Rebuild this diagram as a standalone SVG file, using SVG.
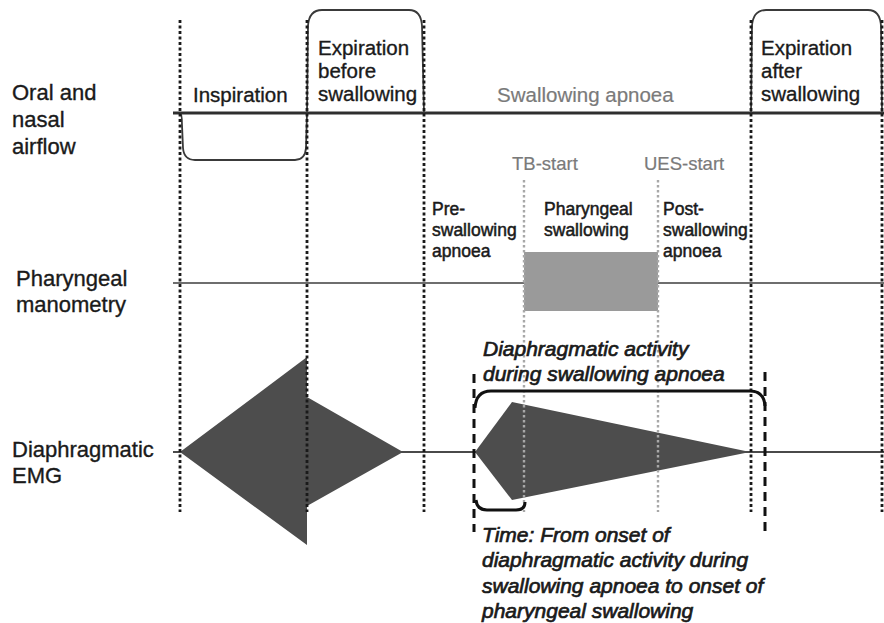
<svg xmlns="http://www.w3.org/2000/svg" width="884" height="623" viewBox="0 0 884 623">
<style>
text{font-family:"Liberation Sans",Arial,sans-serif;fill:#1a1a1a;stroke:#1a1a1a;stroke-width:0.35}
.row{font-size:22px}
.lab{font-size:20.5px}
.sm{font-size:17.5px;stroke-width:0.5}
.gr{fill:#7a7a7a;stroke:#7a7a7a;stroke-width:0.2}
.it{font-style:italic;font-size:21px;stroke-width:0.7}
.vd{stroke:#1a1a1a;stroke-width:2.8;stroke-dasharray:3 2.5;fill:none}
.gd{stroke:#a8a8a8;stroke-width:2.4;stroke-dasharray:2.5 2.5;fill:none}
.wave{stroke:#3a3a3a;stroke-width:1.8;fill:none}
.dash{stroke:#111;stroke-width:3;stroke-dasharray:9 6;fill:none}
.brk{stroke:#111;stroke-width:3;fill:none}
.emg{fill:#4d4d4d}
</style>
<rect width="884" height="623" fill="#fff"/>
<g id="airflow">
<line x1="173" y1="113" x2="884" y2="113" stroke="#2e2e2e" stroke-width="3"/>
<path class="wave" d="M180,113 Q182,113 182,125 L183,148 Q184,160 195,160 L295,160 Q305,160 306,148 L307,113"/>
<path class="wave" d="M307,113 L308,26 Q309,10 322,10 L409,10 Q421,10 422,26 L424,113"/>
<path class="wave" d="M751,113 L752,26 Q753,10 766,10 L868,10 Q880,10 881,26 L882,113"/>
<text class="row" x="12" y="100">Oral and</text>
<text class="row" x="12" y="127">nasal</text>
<text class="row" x="12" y="154">airflow</text>
<text class="lab" x="193" y="102">Inspiration</text>
<text class="lab" x="318" y="55">Expiration</text>
<text class="lab" x="318" y="78">before</text>
<text class="lab" x="318" y="101">swallowing</text>
<text class="lab gr" x="497" y="102">Swallowing apnoea</text>
<text class="lab" x="761" y="55">Expiration</text>
<text class="lab" x="761" y="78">after</text>
<text class="lab" x="761" y="101">swallowing</text>
</g>
<g id="manometry">
<line x1="173" y1="283" x2="884" y2="283" stroke="#6e6e6e" stroke-width="2.2"/>
<rect x="524" y="252" width="134" height="59" fill="#9a9a9a"/>
<text class="row" x="16" y="286">Pharyngeal</text>
<text class="row" x="16" y="312">manometry</text>
<text class="gr" x="512" y="170" style="font-size:18.5px">TB-start</text>
<text class="gr" x="644" y="170" style="font-size:18.5px">UES-start</text>
<text class="sm" x="432" y="215">Pre-</text>
<text class="sm" x="432" y="236">swallowing</text>
<text class="sm" x="432" y="257">apnoea</text>
<text class="sm" x="544" y="215">Pharyngeal</text>
<text class="sm" x="544" y="236">swallowing</text>
<text class="sm" x="663" y="215">Post-</text>
<text class="sm" x="663" y="236">swallowing</text>
<text class="sm" x="663" y="257">apnoea</text>
</g>
<g id="emg">
<line x1="173" y1="452" x2="884" y2="452" stroke="#4a4a4a" stroke-width="2.2"/>
<polygon class="emg" points="180,452 307,357 307,397 403,452 307,506 307,545"/>
<polygon class="emg" points="475,452 512,402 750,452 512,500"/>
<text class="row" x="12" y="457">Diaphragmatic</text>
<text class="row" x="12" y="483">EMG</text>
</g>
<g id="guides">
<line class="vd" x1="180" y1="20" x2="180" y2="512"/>
<line class="vd" x1="307" y1="20" x2="307" y2="512"/>
<line class="vd" x1="424" y1="20" x2="424" y2="512"/>
<line class="vd" x1="751" y1="20" x2="751" y2="512"/>
<line class="vd" x1="882" y1="20" x2="882" y2="512"/>
<line class="gd" x1="524" y1="180" x2="524" y2="512"/>
<line class="gd" x1="658" y1="180" x2="658" y2="512"/>
</g>
<g id="connectors">
<line class="dash" x1="474" y1="374" x2="474" y2="532"/>
<line class="dash" x1="765" y1="372" x2="765" y2="532"/>
<path class="brk" d="M475,408 Q476,391 491,391 L750,391 Q764,391 765,406"/>
<path class="brk" d="M476,500 Q477,510 487,510 L516,510 Q525,510 525,502"/>
<text class="it" x="483" y="356">Diaphragmatic activity</text>
<text class="it" x="483" y="381">during swallowing apnoea</text>
<text class="it" x="482" y="542">Time: From onset of</text>
<text class="it" x="482" y="567">diaphragmatic activity during</text>
<text class="it" x="482" y="593">swallowing apnoea to onset of</text>
<text class="it" x="482" y="618">pharyngeal swallowing</text>
</g>
</svg>
